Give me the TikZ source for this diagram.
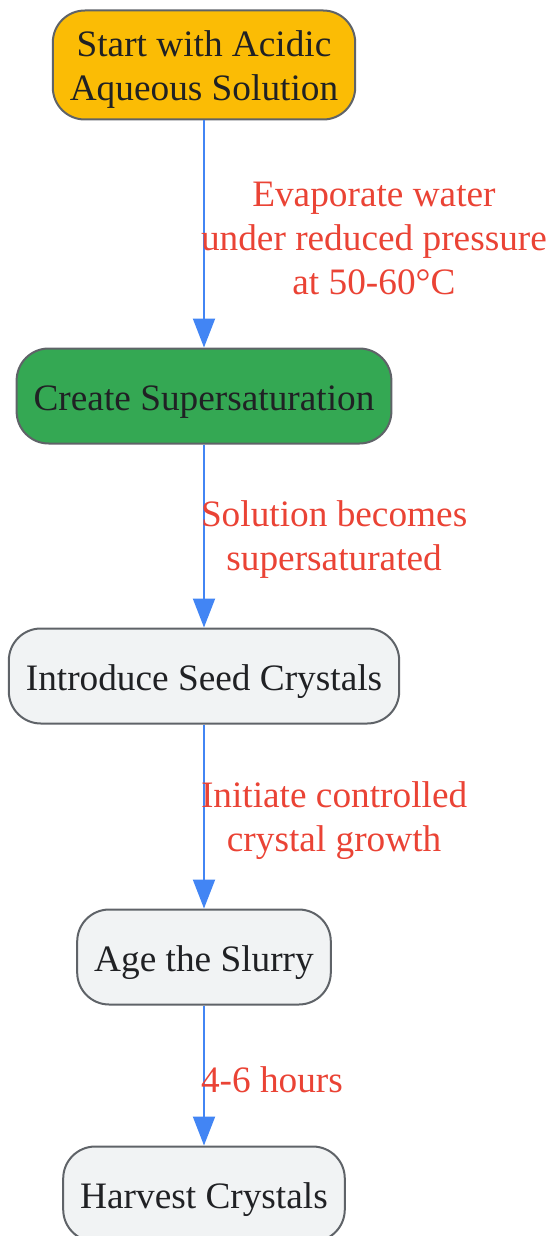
\documentclass[tikz,border=0pt]{standalone}
\usepackage{fontspec}
\setmainfont{Liberation Serif}
\usetikzlibrary{arrows.meta, positioning}
\definecolor{startfill}{HTML}{FBBC05}
\definecolor{superfill}{HTML}{34A853}
\definecolor{plainfill}{HTML}{F1F3F4}
\definecolor{boxline}{HTML}{5F6368}
\definecolor{flowline}{HTML}{4285F4}
\definecolor{notetext}{HTML}{EA4335}
\definecolor{boxtext}{HTML}{202124}
\tikzset{
    flowchart/.style={>={Triangle[length=29pt,width=22pt]}, font=\fontsize{37.3}{44}\selectfont},
    stepbox/.style={draw=boxline, line width=2pt, rounded corners=32pt, fill=plainfill,
        text=boxtext, minimum height=95pt, inner xsep=17pt, text height=36.5pt, text depth=7.5pt,
        align=center},
    flow/.style={->, draw=flowline, line width=2pt},
    % labels on the arrows sit just right of the line
    note/.style={right, inner sep=0pt, xshift=-4pt, yshift=-4pt, text=notetext, align=center},
}
\begin{document}
\begin{tikzpicture}[flowchart]
    \useasboundingbox (0pt,0pt) rectangle (549pt,-1236pt);
    % steps, top to bottom
    \node[stepbox, fill=startfill, minimum height=109pt, text height=78.5pt] (start) at (204pt,-65pt)
        {Start with Acidic\\Aqueous Solution};
    \node[stepbox, fill=superfill, below=227pt of start] (super) {Create Supersaturation};
    \node[stepbox, below=183pt of super]  (seed)    {Introduce Seed Crystals};
    \node[stepbox, below=184pt of seed]   (age)     {Age the Slurry};
    \node[stepbox, below=140pt of age]    (harvest) {Harvest Crystals};

    % arrows
    \draw[flow] (start) -- node[note] {Evaporate water\\under reduced pressure\\at 50-60°C} (super);
    \draw[flow] (super) -- node[note] {Solution becomes\\supersaturated} (seed);
    \draw[flow] (seed) -- node[note] {Initiate controlled\\crystal growth} (age);
    \draw[flow] (age) -- node[note] {4-6 hours} (harvest);
\end{tikzpicture}
\end{document}
